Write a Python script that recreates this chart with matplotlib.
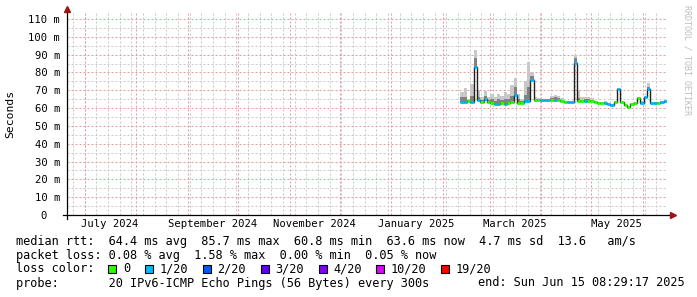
import datetime as dt

import numpy as np
import matplotlib
matplotlib.use('Agg')
import matplotlib.pyplot as plt
import matplotlib.dates as mdates
from matplotlib.patches import Rectangle


# graph window: smokeping "last 360 days"
endTime = dt.datetime(2025, 6, 15, 8, 29, 17)
startTime = endTime - dt.timedelta(days=360)

# one consolidated sample every 2 days, first one on Feb 11 2025
firstSample = dt.datetime(2025, 2, 11, 8, 29, 17)
sampleDays = 2

# median rtt in ms
medianMs = [63.5, 63.5, 63.7, 63.5, 83.0, 64.5, 63.5, 65.0, 63.5, 62.8,
            62.5, 62.5, 62.8, 62.5, 63.0, 63.5, 67.5, 63.0, 62.8, 64.0,
            64.0, 75.5, 64.5, 64.5, 64.5, 64.3, 64.5, 64.3, 64.5, 64.3,
            64.0, 63.5, 63.3, 63.3, 85.5, 64.0, 64.0, 63.8, 64.0, 64.0,
            63.5, 63.0, 62.8, 63.0, 62.5, 62.0, 63.5, 70.5, 63.3, 62.0,
            60.8, 62.5, 63.0, 65.5, 63.0, 66.0, 70.5, 62.8, 62.8, 62.8,
            63.3, 64.0]

# lost pings out of 20
lossCount = [1, 1, 0, 1, 1, 1, 0, 1, 0, 0,
             1, 1, 0, 1, 0, 0, 1, 0, 0, 1,
             1, 1, 0, 0, 1, 1, 1, 0, 1, 0,
             0, 0, 1, 1, 1, 0, 0, 1, 0, 0,
             0, 0, 0, 1, 1, 1, 0, 1, 0, 0,
             0, 0, 0, 0, 1, 1, 1, 1, 1, 0,
             1, 1]

# smoke: upper edge of the dark part and of the light part (ms)
smokeMid = [66.0, 66.5, 64.5, 67.0, 88.0, 66.5, 64.5, 67.0, 64.5, 65.0,
            64.0, 65.0, 64.5, 65.0, 65.0, 67.0, 72.0, 65.0, 64.0, 67.5,
            72.0, 78.0, 65.0, 65.0, 64.5, 64.3, 64.5, 65.5, 66.0, 65.5,
            64.5, 63.5, 63.3, 63.3, 88.0, 65.5, 64.5, 65.0, 65.0, 64.5,
            63.5, 63.0, 62.8, 63.5, 62.5, 62.0, 63.5, 70.8, 63.3, 62.0,
            60.8, 62.5, 63.0, 65.5, 63.5, 66.0, 72.0, 62.8, 62.8, 62.8,
            63.3, 64.0]
smokeTop = [69.0, 71.5, 65.0, 73.5, 92.5, 70.0, 66.0, 69.5, 66.5, 68.0,
            66.0, 68.0, 67.0, 69.0, 68.0, 73.0, 77.0, 68.0, 65.0, 75.0,
            86.0, 80.0, 66.0, 65.5, 65.0, 64.8, 65.0, 67.0, 67.5, 67.0,
            65.5, 64.0, 63.8, 63.8, 90.0, 70.0, 66.0, 66.5, 66.5, 65.5,
            64.0, 63.5, 63.3, 64.0, 63.0, 62.5, 64.0, 71.5, 63.8, 62.5,
            61.3, 63.0, 63.5, 66.0, 64.0, 66.5, 74.0, 63.3, 63.3, 63.3,
            63.8, 64.5]

yTicks = [0, 10, 20, 30, 40, 50, 60, 70, 80, 90, 100, 110]
yTickLabels = ['0  ', '10 m', '20 m', '30 m', '40 m', '50 m', '60 m',
               '70 m', '80 m', '90 m', '100 m', '110 m']

monthLabelMonths = [(2024, 7), (2024, 9), (2024, 11), (2025, 1), (2025, 3), (2025, 5)]
monthLabels = ['July 2024', 'September 2024', 'November 2024',
               'January 2025', 'March 2025', 'May 2025']

lossThresholds = [0, 1, 2, 3, 4, 10, 19]
lossLabels = ['0', '1/20', '2/20', '3/20', '4/20', '10/20', '19/20']
lossColors = ['#26ff00', '#00b8ff', '#0059ff', '#5e00ff', '#7e00ff', '#dd00ff', '#ff0000']

statLines = [
    'median rtt:  64.4 ms avg  85.7 ms max  60.8 ms min  63.6 ms now  4.7 ms sd  13.6   am/s',
    'packet loss: 0.08 % avg  1.58 % max  0.00 % min  0.05 % now',
]
lossTitle = 'loss color:'
probeText = 'probe:       20 IPv6-ICMP Echo Pings (56 Bytes) every 300s'
endText = 'end: Sun Jun 15 08:29:17 2025'
watermark = 'RRDTOOL / TOBI OETIKER'


W, H = 697, 297

def fx(px):
    return px / W

def fy(py):
    return 1 - py / H


plt.rcParams['font.family'] = 'DejaVu Sans Mono'

fig = plt.figure(figsize=(W / 100, H / 100), dpi=100)
fig.patch.set_facecolor('white')

axLeft, axRight, axTop, axBottom = 67, 667, 13, 215
ax = fig.add_axes([fx(axLeft), fy(axBottom), (axRight - axLeft) / W, (axBottom - axTop) / H])
ax.set_facecolor('white')

yMax = (axBottom - axTop) / ((axBottom - 19) / 110.0)
ax.set_xlim(mdates.date2num(startTime), mdates.date2num(endTime))
ax.set_ylim(0, yMax)

for s in ax.spines.values():
    s.set_visible(False)

# grid: weekly (mondays) grey, month starts red; 5 ms grey, 10 ms red
minorColor = '#c9c9c9'
majorColor = '#e49c9c'
gridKw = dict(lw=0.72, ls=(0, (2, 2)))

day = startTime.replace(hour=0, minute=0, second=0)
while day <= endTime:
    if day >= startTime and day.weekday() == 0:
        ax.axvline(mdates.date2num(day), color=minorColor, zorder=1, **gridKw)
    day += dt.timedelta(days=1)
for v in np.arange(5, yMax, 10):
    ax.axhline(v, color=minorColor, zorder=1, **gridKw)

monthStarts = []
y, m = 2024, 7
while dt.datetime(y, m, 1) <= endTime:
    monthStarts.append(dt.datetime(y, m, 1))
    m += 1
    if m > 12:
        y, m = y + 1, 1
for d in monthStarts:
    ax.axvline(mdates.date2num(d), color=majorColor, zorder=2, **gridKw)
for v in yTicks[1:]:
    ax.axhline(v, color=majorColor, zorder=2, **gridKw)

# sample edges
edges = [mdates.date2num(firstSample + dt.timedelta(days=sampleDays * i))
         for i in range(len(medianMs) + 1)]
edges = np.array(edges)
med = np.array(medianMs)

# smoke
ax.stairs(smokeTop, edges, baseline=smokeMid, fill=True, color='#c8c8c8', lw=0, zorder=3)
ax.stairs(smokeMid, edges, baseline=med, fill=True, color='#828282', lw=0, zorder=4)

# median line
ax.stairs(med, edges, baseline=None, color='#202020', lw=1.0, zorder=5)

# loss coloured band on the median
bucket = np.searchsorted(lossThresholds, lossCount, side='right') - 1
bandColors = [lossColors[b] for b in bucket]
band = ax.hlines(med, edges[:-1], edges[1:], colors=bandColors, lw=2.0, zorder=6)
band.set_capstyle('butt')

# ticks
ax.set_yticks(yTicks, yTickLabels)
labelDates = [mdates.date2num(dt.datetime(y, m, 16)) for (y, m) in monthLabelMonths]
ax.set_xticks(labelDates, monthLabels)
ax.tick_params(axis='y', length=0, pad=5, labelsize=7.6, colors='#000000')
ax.tick_params(axis='x', length=0, pad=3.2, labelsize=7.6, colors='#000000')

# axes lines with arrows
axisColor = '#000000'
arrowColor = '#9c1414'
pw = axRight - axLeft
ph = axBottom - axTop
ax.plot([-4 / pw, (672 - axLeft) / pw], [0, 0], color=axisColor, lw=0.9,
        transform=ax.transAxes, clip_on=False, zorder=7)
ax.plot([0, 0], [-4 / ph, (axBottom - 9) / ph], color=axisColor, lw=0.9,
        transform=ax.transAxes, clip_on=False, zorder=7)
ax.plot([(673 - axLeft) / pw], [0], marker='>', ms=4.5, color=arrowColor, mec=arrowColor,
        transform=ax.transAxes, clip_on=False, zorder=8)
ax.plot([0], [(axBottom - 9) / ph], marker='^', ms=4.5, color=arrowColor, mec=arrowColor,
        transform=ax.transAxes, clip_on=False, zorder=8)

# unit label and watermark
fig.text(fx(10), fy(114), 'Seconds', rotation=90, ha='center', va='center', fontsize=8.2)
fig.text(fx(687), fy(60), watermark, rotation=270, ha='center', va='center',
         fontsize=6, color='#bdbdbd')

# legend block
legendSize = 8.6
lineY = [241, 255, 269, 283]
for text, yy in zip(statLines, lineY[:2]):
    fig.text(fx(16), fy(yy), text, ha='left', va='center', fontsize=legendSize)

fig.text(fx(16), fy(lineY[2]), lossTitle, ha='left', va='center', fontsize=legendSize)
xPos = 108.3
for label, color in zip(lossLabels, lossColors):
    fig.patches.append(Rectangle((fx(xPos), fy(lineY[2] + 4)), 8 / W, 8 / H,
                                 facecolor=color, edgecolor='#000000', lw=0.8,
                                 transform=fig.transFigure, figure=fig))
    fig.text(fx(xPos + 14.5), fy(lineY[2]), label, ha='left', va='center', fontsize=legendSize)
    xPos += 14.5 + len(label) * 7.1 + 15

fig.text(fx(16), fy(lineY[3]), probeText, ha='left', va='center', fontsize=legendSize)
fig.text(fx(478), fy(lineY[3]), endText, ha='left', va='center', fontsize=legendSize)

plt.savefig('out.png', dpi=100)
